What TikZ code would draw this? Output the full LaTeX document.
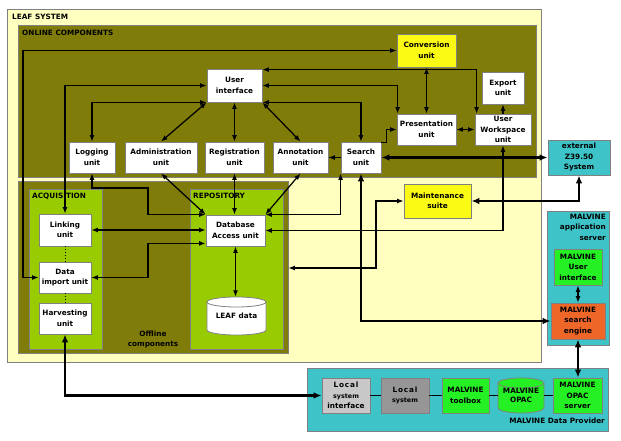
\documentclass[tikz,border=0pt]{standalone}
\usepackage{fontspec}
\setmainfont{DejaVu Sans}
\usetikzlibrary{arrows.meta,calc}
\definecolor{leafyellow}{RGB}{255,255,192}
\definecolor{olivebg}{RGB}{128,124,10}
\definecolor{acqgreen}{RGB}{153,204,0}
\definecolor{unityellow}{RGB}{250,250,20}
\definecolor{tealc}{RGB}{62,196,200}
\definecolor{mgreen}{RGB}{36,240,36}
\definecolor{morange}{RGB}{238,102,40}
\definecolor{lgray}{RGB}{200,200,200}
\definecolor{dgray}{RGB}{150,150,150}
\definecolor{bordergray}{RGB}{128,128,128}
\tikzset{
  lbl/.style={font=\fontsize{7.3}{10.5}\selectfont\bfseries, align=center, inner sep=0pt, text=black},
  unitbox/.style={lbl, draw=bordergray, line width=0.8pt, fill=white},
  container/.style={draw=bordergray, line width=0.8pt, inner sep=0pt},
  conn/.style={line width=1.25pt, draw=black},
  bi/.style={conn, {Latex[length=6.5pt,width=5pt]}-{Latex[length=6.5pt,width=5pt]}},
  uni/.style={conn, -{Latex[length=6.5pt,width=5pt]}},
  heavybi/.style={line width=2.6pt, draw=black, {Latex[length=8pt,width=6.5pt]}-{Latex[length=8pt,width=6.5pt]}},
  plainline/.style={line width=1pt, draw=black},
  dotline/.style={line width=0.9pt, dotted, draw=black},
  xdot/.style={fill=black},
}
\begin{document}
\begin{tikzpicture}[x=1pt,y=-1pt]
\useasboundingbox (0,0) rectangle (621,441);
\fill[white] (0,0) rectangle (621,441);
% containers
\node[container, fill=leafyellow, minimum width=534, minimum height=353] (leaf) at (274,185.5) {};
\node[container, fill=olivebg, minimum width=518, minimum height=152] (online) at (277,101) {};
\node[container, fill=olivebg, minimum width=270, minimum height=172] (offline) at (153,267) {};
\node[container, fill=acqgreen, minimum width=73, minimum height=160] (acq) at (65.5,269) {};
\node[container, fill=acqgreen, minimum width=93, minimum height=160] (repo) at (236.5,269) {};
\node[container, fill=tealc, minimum width=62, minimum height=134] (appserver) at (578,278) {};
\node[container, fill=tealc, minimum width=301, minimum height=63] (dp) at (457.5,399.5) {};
% container labels
\node[lbl, anchor=west] (leaflbl) at (12,16.5) {LEAF SYSTEM};
\node[lbl, anchor=west] (onlinelbl) at (22,33) {ONLINE COMPONENTS};
\node[lbl, anchor=west] (acqlbl) at (32,196.5) {ACQUISITION};
\node[lbl, anchor=west] (repolbl) at (193,195.5) {REPOSITORY};
\node[lbl] (offlbl) at (153,339.5) {Offline\\components};
\node[lbl, anchor=north east, align=right] (aslbl) at (606,213.5) {MALVINE\\application\\server};
\node[lbl, anchor=east] (dplbl) at (605,421) {MALVINE Data Provider};
% online units
\node[unitbox, minimum width=55, minimum height=33] (ui) at (234.5,85.5) {User\\interface};
\node[unitbox, fill=unityellow, minimum width=59, minimum height=33] (conv) at (426.5,50.5) {Conversion\\unit};
\node[unitbox, minimum width=42, minimum height=32] (export) at (503,88) {Export\\unit};
\node[unitbox, minimum width=59, minimum height=31] (pres) at (426.5,129.5) {Presentation\\unit};
\node[unitbox, minimum width=56, minimum height=31] (uw) at (503,129.5) {User\\Workspace\\unit};
\node[unitbox, minimum width=46, minimum height=31] (log) at (92,157.5) {Logging\\unit};
\node[unitbox, minimum width=72, minimum height=31] (admin) at (161,157.5) {Administration\\unit};
\node[unitbox, minimum width=59, minimum height=31] (reg) at (234.5,157.5) {Registration\\unit};
\node[unitbox, minimum width=55, minimum height=31] (annot) at (300.5,157.5) {Annotation\\unit};
\node[unitbox, minimum width=40, minimum height=31] (search) at (361,157.5) {Search\\unit};
\node[unitbox, fill=tealc, minimum width=62, minimum height=35] (z39) at (579,157.5) {external\\Z39.50\\System};
\node[unitbox, fill=unityellow, minimum width=67, minimum height=34] (maint) at (437.5,201) {Maintenance\\suite};
% offline units
\node[unitbox, minimum width=52, minimum height=32] (link) at (65,230) {Linking\\unit};
\node[unitbox, minimum width=52, minimum height=31] (import) at (65,277.5) {Data\\import unit};
\node[unitbox, minimum width=52, minimum height=31] (harv) at (65,318.5) {Harvesting\\unit};
\node[unitbox, minimum width=59, minimum height=31] (db) at (235.5,230.5) {Database\\Access unit};
% LEAF data cylinder
\draw[draw=bordergray, line width=0.8pt, fill=white] (207,302) -- (207,330)
  arc[start angle=180, end angle=360, x radius=29.5pt, y radius=5pt] -- (266,302)
  arc[start angle=0, end angle=180, x radius=29.5pt, y radius=5pt] -- cycle;
\draw[draw=bordergray, line width=0.8pt] (207,302) arc[start angle=180, end angle=360, x radius=29.5pt, y radius=5pt];
\node[lbl, minimum width=59, minimum height=38] (leafd) at (236.5,316) {\raisebox{-3pt}{LEAF data}};
% MALVINE server units
\node[unitbox, fill=mgreen, minimum width=48, minimum height=36] (mui) at (578,267) {MALVINE\\User\\interface};
\node[unitbox, fill=morange, minimum width=54, minimum height=36] (mse) at (578,321) {MALVINE\\search\\engine};
% data provider units
\node[unitbox, fill=lgray, minimum width=48, minimum height=35] (lsi) at (346,395.5)
  {{\addfontfeatures{LetterSpace=12}Local}\\{\fontsize{6.4}{10.5}\selectfont system}\\interface};
\node[unitbox, fill=dgray, minimum width=48, minimum height=35] (ls) at (405,395.5)
  {{\addfontfeatures{LetterSpace=12}Local}\\{\fontsize{6.4}{10.5}\selectfont system}};
\node[unitbox, fill=mgreen, minimum width=47, minimum height=35] (tb) at (465.5,395.5) {MALVINE\\toolbox};
\draw[draw=bordergray, line width=0.8pt, fill=mgreen] (498,383) -- (498,408)
  arc[start angle=180, end angle=360, x radius=23pt, y radius=5pt] -- (544,383)
  arc[start angle=0, end angle=180, x radius=23pt, y radius=5pt] -- cycle;
\draw[draw=bordergray, line width=0.8pt] (498,383) arc[start angle=180, end angle=360, x radius=23pt, y radius=5pt];
\node[lbl, minimum width=46, minimum height=35] (opac) at (521,395.5) {\raisebox{-2pt}{\shortstack{MALVINE\\OPAC}}};
\node[unitbox, fill=mgreen, minimum width=49, minimum height=35] (opacs) at (577.5,395.5) {MALVINE\\OPAC\\server};
% connectors
\draw[bi] (conv.west) -- (23,50.5) |- (import.west);
\draw[bi] (ui.west) -| (link.north);
\draw[bi] (ui.south west) -| (log.north);
\draw[bi] (ui.south west) -- (admin.north);
\draw[bi] (ui.south) -- (reg.north);
\draw[bi] (ui.south east) -- (annot.north);
\draw[bi] ([yshift=-1pt]ui.north east) -| ([xshift=2pt]uw.north west);
\draw[bi] (ui.east) -| ([xshift=1pt]pres.north west);
\draw[bi] (ui.south east) -| (search.north);
\draw[bi] (conv.south) -- (pres.north);
\draw[bi] (pres.east) -- (uw.west);
\draw[uni] (uw.north) -- (export.south);
\draw[uni] ([yshift=-1pt]search.north east) -- ++(5,0) |- (pres.west);
\draw[uni] (search.west) -- (annot.east);
\draw[heavybi] (search.east) -- (z39.west);
\draw[bi] (uw.south) |- (db.east);
\draw[heavybi] (maint.east) -| (z39.south);
\draw[bi] (maint.west) -- (376,201) |- (offline.east |- 0,268);
\draw[heavybi] (search.south) |- (mse.west);
\draw[bi] (search.south west) |- (db.north east);
\draw[bi] (annot.south) -- (db.north east);
\draw[bi] (reg.south) -- (reg.south |- db.north);
\draw[bi] (admin.south) -- (db.north west);
\draw[bi] (log.south) |- (148,188) |- (db.north west);
\draw[bi] (link.east) -- (link.east -| db.west);
\draw[bi] (import.east) -- (148,277.5) |- ([yshift=3pt]db.south west);
\draw[bi] (db.south) -- (db.south |- leafd.north);
\draw[dotline] (link.south) -- (import.north);
\draw[dotline] (import.south) -- (harv.north);
\draw[heavybi] (harv.south) |- (lsi.west);
\draw[bi] (mui.south) -- (mse.north);
\draw[heavybi] (mse.south) -- (mse.south |- opacs.north);
\draw[plainline] (lsi.east) -- (ls.west);
\draw[plainline] (ls.east) -- (tb.west);
\draw[plainline] (tb.east) -- (opac.west);
\draw[plainline] (opac.east) -- (opacs.west);
% crossing dots
\fill[xdot] (361,230.5) circle[radius=1.5pt];
\fill[xdot] (376,230.5) circle[radius=1.5pt];
\fill[xdot] (361,268) circle[radius=1.5pt];
\fill[xdot] (503,201) circle[radius=1.5pt];
\end{tikzpicture}
\end{document}
